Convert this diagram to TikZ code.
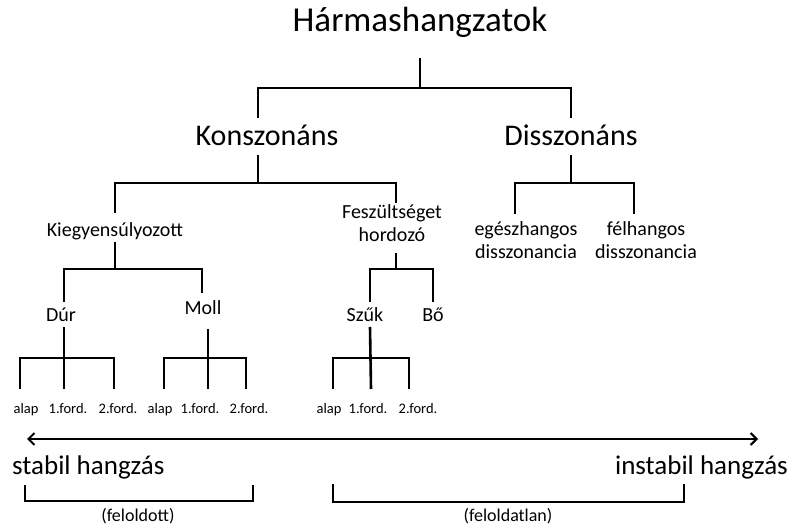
\documentclass[tikz,border=0pt]{standalone}
\usepackage{fontspec}
\setmainfont{Carlito}
\usetikzlibrary{arrows.meta}
\tikzset{barbtip/.tip={Straight Barb[length=6pt,width=12pt,line width=2pt]}}
\begin{document}
\begin{tikzpicture}[x=1pt,y=-1pt,
  conn/.style={line width=2.6pt, line cap=butt, line join=miter},
  lbl/.style={inner sep=0pt, anchor=base},
  fTitle/.style={lbl, font=\fontsize{35}{40}\selectfont},
  fBig/.style={lbl, font=\fontsize{30}{34}\selectfont},
  fMid/.style={lbl, font=\fontsize{20}{23.5}\selectfont},
  fSmall/.style={lbl, font=\fontsize{14.5}{17}\selectfont},
  fScale/.style={lbl, font=\fontsize{27}{31}\selectfont},
  fNote/.style={lbl, font=\fontsize{18}{21}\selectfont}]
\useasboundingbox (0,0) rectangle (790,526);
% texts
\node[fTitle] (root) at (420,32) {Hármashangzatok};
\node[fBig] (kons) at (267,146) {Konszonáns};
\node[fBig] (diss) at (571,146) {Disszonáns};
\node[fMid] (kieg) at (115,237) {Kiegyensúlyozott};
\node[fMid,align=center] (fesz) at (392,242) {Feszültséget\\hordozó};
\node[fMid,align=center] (egesz) at (526,259) {egészhangos\\disszonancia};
\node[fMid,align=center] (felh) at (646,259) {félhangos\\disszonancia};
\node[fMid] (dur) at (61,322) {Dúr};
\node[fMid] (moll) at (203,315) {Moll};
\node[fMid] (szuk) at (365,322) {Szűk};
\node[fMid] (bo) at (433,322) {Bő};
\node[fSmall] (d1) at (26,414) {alap};
\node[fSmall] (d2) at (68,414) {1.ford.};
\node[fSmall] (d3) at (118,414) {2.ford.};
\node[fSmall] (m1) at (160,414) {alap};
\node[fSmall] (m2) at (200,414) {1.ford.};
\node[fSmall] (m3) at (249,414) {2.ford.};
\node[fSmall] (s1) at (329,414) {alap};
\node[fSmall] (s2) at (368,414) {1.ford.};
\node[fSmall] (s3) at (418,414) {2.ford.};
\node[fScale,anchor=base west] (stab) at (12,475) {stabil hangzás};
\node[fScale,anchor=base east] (instab) at (788,475) {instabil hangzás};
\node[fNote] (feld) at (138,521) {(feloldott)};
\node[fNote] (felatl) at (508,521) {(feloldatlan)};
% junction coordinates
\coordinate (rT) at (420,58); \coordinate (rB) at (420,88);
\coordinate (kT) at (258,118); \coordinate (dT) at (571,118);
\coordinate (kB1) at (258,155); \coordinate (kB2) at (258,183);
\coordinate (dB1) at (571,155); \coordinate (dB2) at (571,183);
\coordinate (kiT) at (115,213); \coordinate (feT) at (396,203);
\coordinate (egT) at (515,214); \coordinate (fhT) at (634,214);
\coordinate (kiB1) at (115,242); \coordinate (kiB2) at (115,269);
\coordinate (feB1) at (396,253); \coordinate (feB2) at (396,269);
\coordinate (duT) at (64,302); \coordinate (moT) at (202,293);
\coordinate (szT) at (370,302); \coordinate (boT) at (433,302);
\coordinate (duB1) at (64,327); \coordinate (duB2) at (64,358);
\coordinate (moB1) at (208,329); \coordinate (moB2) at (208,358);
\coordinate (szB1) at (370,327); \coordinate (szB2) at (370,358);
\coordinate (d1T) at (20,389); \coordinate (d2T) at (64,389); \coordinate (d3T) at (114,389);
\coordinate (m1T) at (164,389); \coordinate (m2T) at (208,389); \coordinate (m3T) at (246,389);
\coordinate (s1T) at (333,389); \coordinate (s2T) at (371,389); \coordinate (s3T) at (409,389);
\coordinate (aL) at (27,439); \coordinate (aR) at (758,439);
% tree connectors
\draw[conn] (rT) -- (rB);
\draw[conn] (kT) |- (rB) -| (dT);
\draw[conn] (kB1) -- (kB2);
\draw[conn] (kiT) |- (kB2) -| (feT);
\draw[conn] (dB1) -- (dB2);
\draw[conn] (egT) |- (dB2) -| (fhT);
\draw[conn] (kiB1) -- (kiB2);
\draw[conn] (duT) |- (kiB2) -| (moT);
\draw[conn] (feB1) -- (feB2);
\draw[conn] (szT) |- (feB2) -| (boT);
\draw[conn] (duB1) -- (d2T);
\draw[conn] (d1T) |- (duB2) -| (d3T);
\draw[conn] (moB1) -- (m2T);
\draw[conn] (m1T) |- (moB2) -| (m3T);
\draw[conn] (szB1) -- (s2T);
\draw[conn] (s1T) |- (szB2) -| (s3T);
% scale arrow
\draw[conn, barbtip-barbtip] (aL) -- (aR);
% brackets
\coordinate (b1a) at (25,485); \coordinate (b1b) at (253,485);
\coordinate (b2a) at (333,484); \coordinate (b2b) at (684,484);
\draw[conn] (b1a) |- (138,501) -| (b1b);
\draw[conn] (b2a) |- (508,502) -| (b2b);
\end{tikzpicture}
\end{document}
